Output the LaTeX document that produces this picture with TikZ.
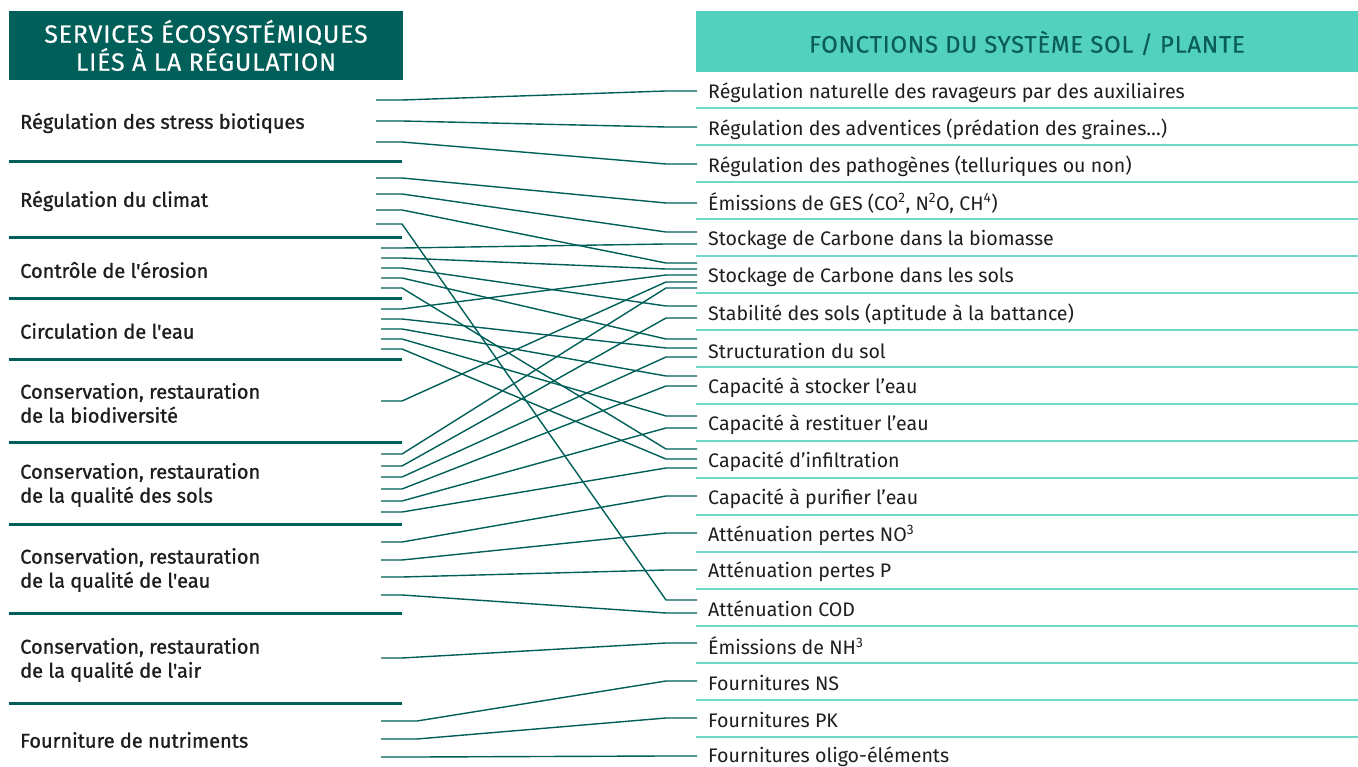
\documentclass[tikz,border=0pt]{standalone}
\usepackage{fontspec}
\setmainfont{Fira Sans}
\newfontfamily\medfont[FakeBold=1.0]{Fira Sans}
\newfontfamily\headfont[LetterSpace=3,FakeBold=0.4]{Fira Sans}
\definecolor{dteal}{HTML}{005F58}
\definecolor{turq}{HTML}{52D2BE}
\definecolor{lturq}{HTML}{6DD9C6}
\definecolor{txt}{HTML}{1E1E1E}
\definecolor{htxt}{HTML}{0B5E57}
\tikzset{
  conn/.style={draw=dteal, line width=1.4pt},
  lsep/.style={draw=dteal, line width=3pt},
  rsep/.style={draw=lturq, line width=1.8pt},
  rlabel/.style={anchor=west, inner sep=0pt, text=txt, font=\fontsize{19.6}{22}\selectfont},
  llabel/.style={anchor=west, inner sep=0pt, text=txt, align=left, font=\medfont\fontsize{20}{24}\selectfont},
}
\begin{document}
\begin{tikzpicture}[x=1pt,y=-1pt]
\useasboundingbox[fill=white] (0,0) rectangle (1358,767);
% headers
\fill[dteal] (9,11) rectangle (403,80);
\node[text=white, align=center, font=\headfont\fontsize{25}{28}\selectfont] (hl) at (206,45.5) {SERVICES ÉCOSYSTÉMIQUES\\LIÉS À LA RÉGULATION};
\fill[turq] (696,11) rectangle (1358,72);
\node[text=htxt, font=\headfont\fontsize{24}{26}\selectfont] (hr) at (1027,43) {FONCTIONS DU SYSTÈME SOL / PLANTE};
% right separators
\foreach \k in {0,...,17} {\draw[rsep] (696,108+37*\k) -- (1358,108+37*\k);}
% left separators
\foreach \y in {162,238,299,360,442,524,613,703} {\draw[lsep] (9,\y) -- (402,\y);}
% right labels
\foreach [count=\i from 0] \t in {
 {Régulation naturelle des ravageurs par des auxiliaires},
 {Régulation des adventices (prédation des graines\ldots)},
 {Régulation des pathogènes (telluriques ou non)},
 {Émissions de GES (CO\textsuperscript{2}, N\textsuperscript{2}O, CH\textsuperscript{4})},
 {Stockage de Carbone dans la biomasse},
 {Stockage de Carbone dans les sols},
 {Stabilité des sols (aptitude à la battance)},
 {Structuration du sol},
 {Capacité à stocker l'eau},
 {Capacité à restituer l'eau},
 {Capacité d'infiltration},
 {Capacité à purifier l'eau},
 {Atténuation pertes NO\textsuperscript{3}},
 {Atténuation pertes P},
 {Atténuation COD},
 {Émissions de NH\textsuperscript{3}},
 {Fournitures NS},
 {Fournitures PK},
 {Fournitures oligo-éléments}}
 {\node[rlabel] (r\i) at (708,92.5+36.9*\i) {\t};}
% left labels
\node[llabel] (l1) at (20,123) {Régulation des stress biotiques};
\node[llabel] (l2) at (20,201) {Régulation du climat};
\node[llabel] (l3) at (20,270) {Contrôle de l'érosion};
\node[llabel] (l4) at (20,331) {Circulation de l'eau};
\node[llabel] (l5) at (20,403) {Conservation, restauration\\de la biodiversité};
\node[llabel] (l6) at (20,485) {Conservation, restauration\\de la qualité des sols};
\node[llabel] (l7) at (20,570) {Conservation, restauration\\de la qualité de l'eau};
\node[llabel] (l8) at (20,660) {Conservation, restauration\\de la qualité de l'air};
\node[llabel] (l9) at (20,740) {Fourniture de nutriments};
% connectors: start x, start y, bend x, target y
\foreach [count=\i] \sx/\sy/\bx/\ty in {
 376/100/402/91, 376/121/402/127, 376/142/402/164, 376/178/402/203,
 376/194/402/232, 376/210/402/263, 376/224/402/600,
 381/248/402/244, 381/258/402/269, 381/268/402/306, 381/278/402/339, 381/288/402/449,
 381/309/402/275, 381/319/402/348, 381/329/402/376, 381/339/402/416, 381/349/402/459,
 381/401/402/282,
 381/454/402/288, 381/466/402/318, 381/477/402/357, 381/489/402/386, 381/501/402/428, 381/512/402/468,
 381/542/402/496, 381/560/402/533, 381/577/402/570, 381/595/402/613,
 381/658/402/643,
 381/721/417/681, 381/739/417/718, 381/757/417/756} {
  \coordinate (s\i) at (\sx,\sy);
  \coordinate (b\i) at (\bx,\sy);
  \coordinate (c\i) at (666,\ty);
  \coordinate (t\i) at (697,\ty);
  \draw[conn] (s\i) -- (b\i) -- (c\i) -- (t\i);
}
\end{tikzpicture}
\end{document}
